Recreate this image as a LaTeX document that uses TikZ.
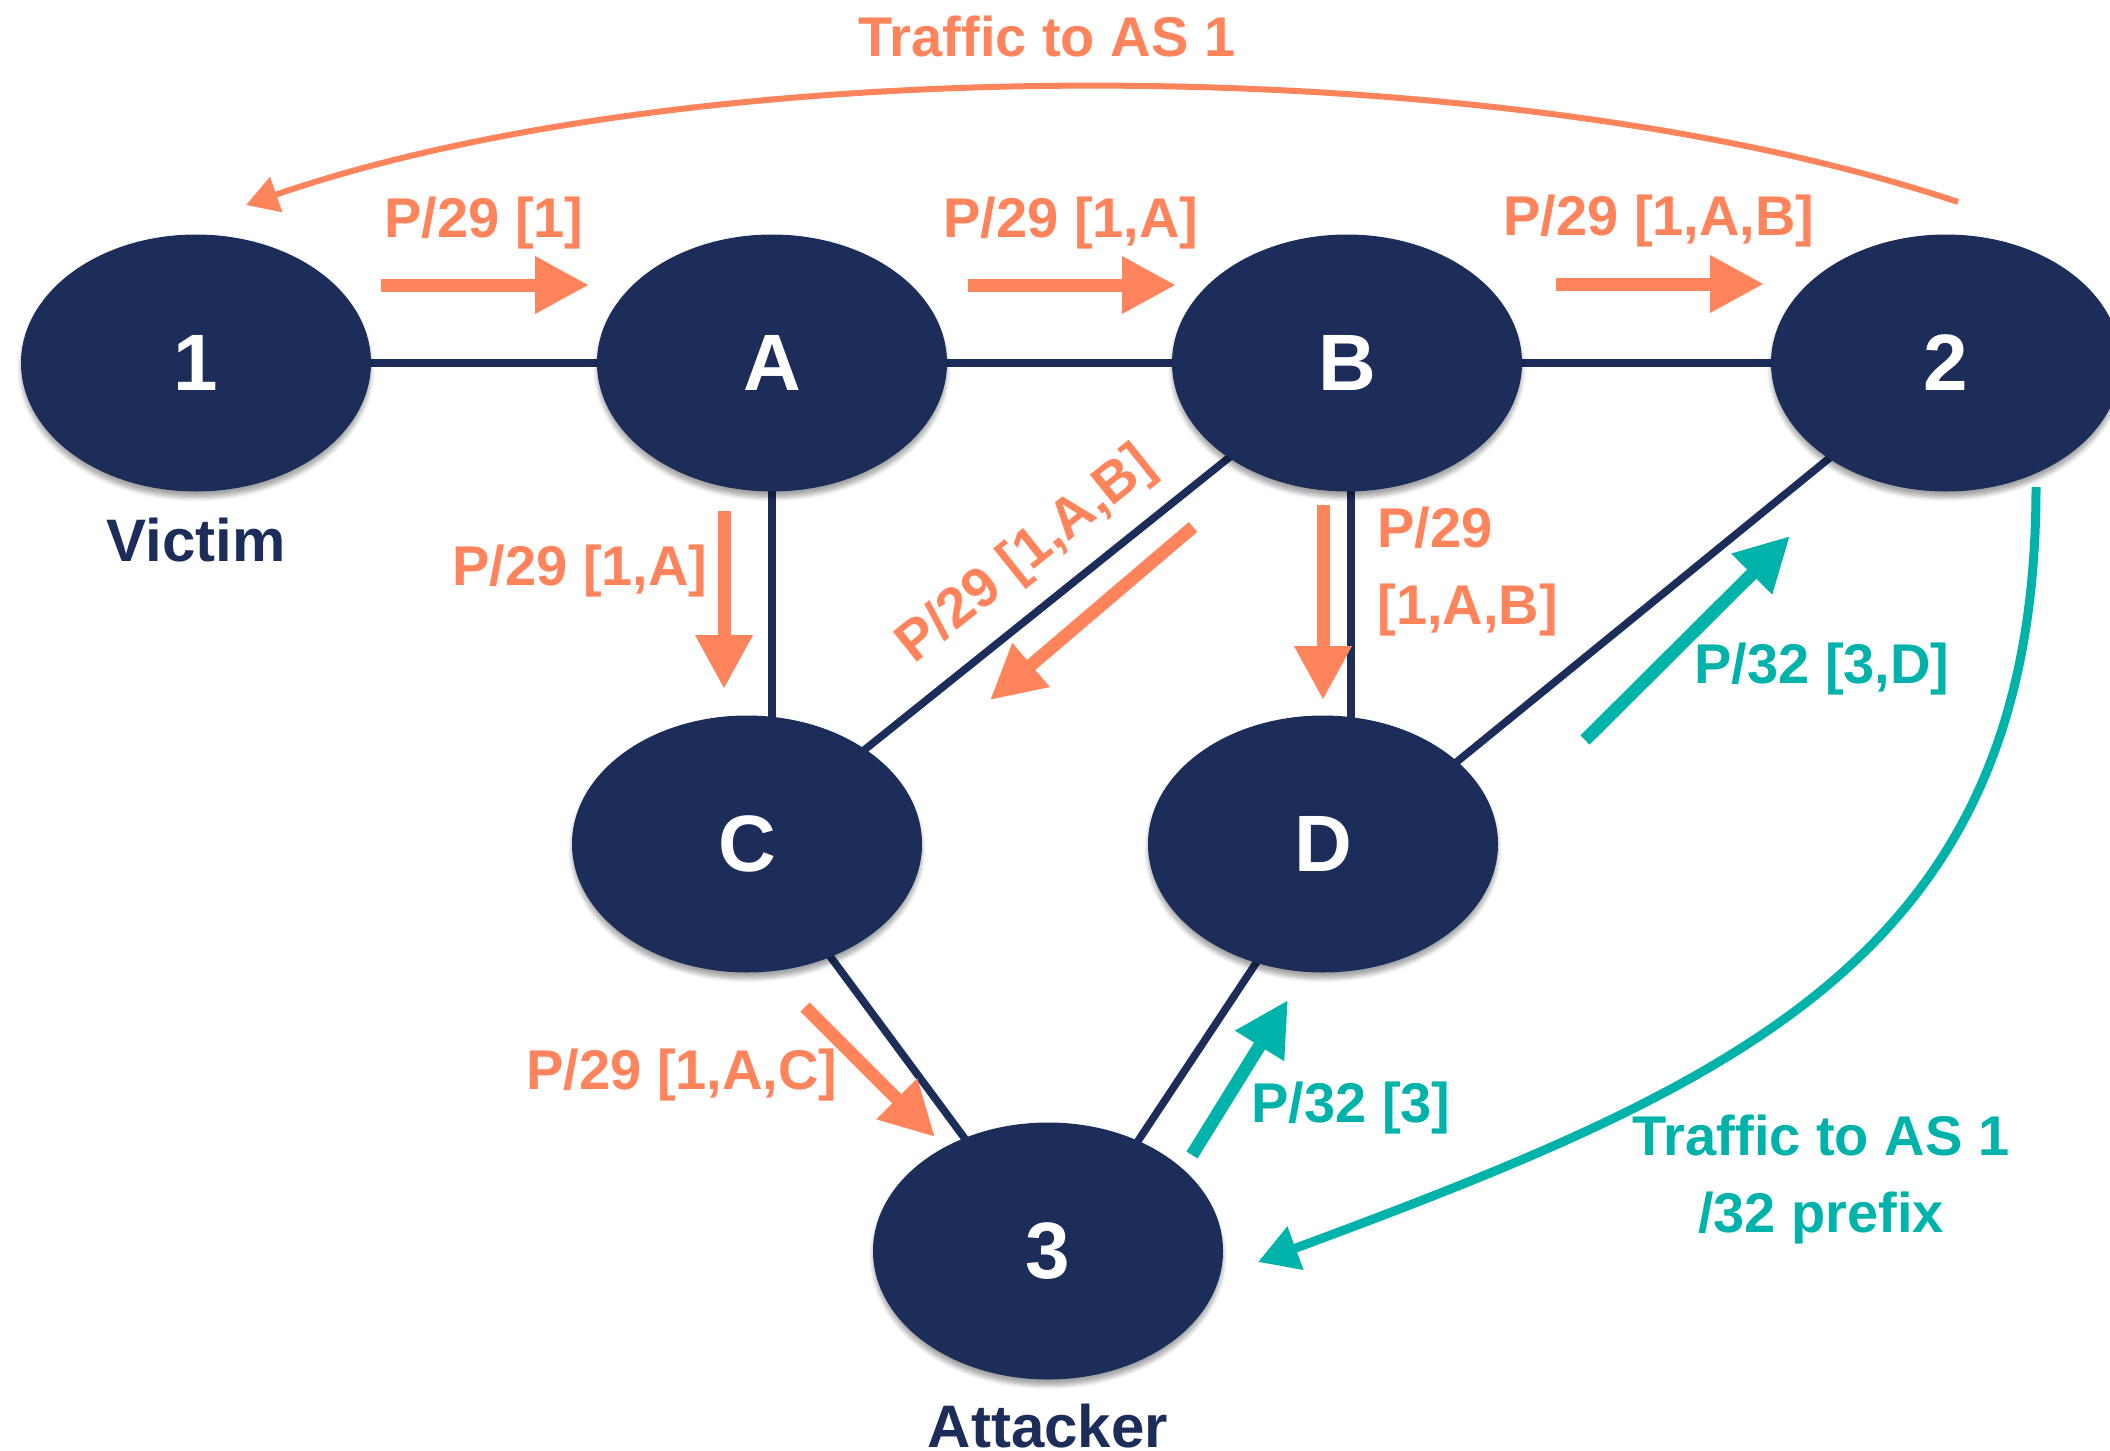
\documentclass[tikz,border=0pt]{standalone}
\usepackage{fontspec}
\setmainfont{Liberation Sans}
\usetikzlibrary{arrows.meta,shapes.geometric,shadows.blur,backgrounds,calc}
\definecolor{navy}{HTML}{1C2D5A}
\definecolor{coral}{HTML}{FF835B}
\definecolor{tealc}{HTML}{00B3AA}
\begin{document}
\begin{tikzpicture}[x=0.5pt,y=-0.5pt,
  asnode/.style={ellipse, fill=navy, minimum width=175pt, minimum height=128.5pt, inner sep=0pt,
    text=white, font=\fontsize{40}{40}\selectfont\bfseries,
    blur shadow={shadow xshift=0pt, shadow yshift=-3pt, shadow blur steps=6, shadow opacity=35}},
  link/.style={draw=navy, line width=3.8pt},
  lbl/.style={font=\fontsize{28}{38.5}\selectfont\bfseries, inner sep=0pt},
  namelbl/.style={lbl, text=navy, font=\fontsize{30}{36}\selectfont\bfseries},
  bigarrow/.style={line width=6.5pt, -{Triangle[length=27pt,width=27pt]}},
  oarrow/.style={bigarrow, draw=coral},
  tarrow/.style={bigarrow, draw=tealc},
]
\useasboundingbox (0,0) rectangle (2110,1451);
\begin{scope}
\clip (0,0) rectangle (2110,1451);
% nodes
\node[asnode] (n1) at (196,363) {1};
\node[asnode] (nA) at (772,363) {A};
\node[asnode] (nB) at (1347,363) {B};
\node[asnode] (n2) at (1946,363) {2};
\node[asnode] (nC) at (747,844) {C};
\node[asnode] (nD) at (1323,844) {D};
\node[asnode] (n3) at (1048,1251) {3};

\begin{pgfonlayer}{background}
\draw[link] (n1.center) -- (nA.center);
\draw[link] (nA.center) -- (nB.center);
\draw[link] (nB.center) -- (n2.center);
\draw[link] (nA.center) -- (nA.center |- nC.center);
\draw[link] ($(nB.center)+(4,0)$) -- ($(nB.center |- nD.center)+(4,0)$);
\draw[link] (nB.center) -- (nC.center);
\draw[link] (n2.center) -- ($(nD.center)+(33,0)$);
\draw[link] (nC.center) -- (n3.center);
\draw[link] ($(nD.center)+(12,0)$) -- ($(n3.center)+(17,0)$);
\end{pgfonlayer}

% names
\node[namelbl] (victim) at (196,540) {Victim};
\node[namelbl] (attacker) at (1048,1426) {Attacker};

% thick announcement arrows
\coordinate (a1s) at (381,285); \coordinate (a1e) at (589,285);
\coordinate (a2s) at (968,285); \coordinate (a2e) at (1176,285);
\coordinate (a3s) at (1556,284); \coordinate (a3e) at (1764,284);
\coordinate (a4s) at (724,511); \coordinate (a4e) at (724,689);
\coordinate (a5s) at (1323,505); \coordinate (a5e) at (1323,700);
\coordinate (a6s) at (1193,527); \coordinate (a6e) at (990,700);
\coordinate (a7s) at (805,1007); \coordinate (a7e) at (935,1137);
\coordinate (t1s) at (1192,1155); \coordinate (t1e) at (1288,1000);
\coordinate (t2s) at (1585,740); \coordinate (t2e) at (1790,536);
\draw[oarrow] (a1s) -- (a1e);
\draw[oarrow] (a2s) -- (a2e);
\draw[oarrow] (a3s) -- (a3e);
\draw[oarrow] (a4s) -- (a4e);
\draw[oarrow] (a5s) -- (a5e);
\draw[oarrow] (a6s) -- (a6e);
\draw[oarrow] (a7s) -- (a7e);
\draw[tarrow] (t1s) -- (t1e);
\draw[tarrow] (t2s) -- (t2e);

% labels
\node[lbl, text=coral] (l1) at (484,223) {P/29 [1]};
\node[lbl, text=coral] (l2) at (1071,223) {P/29 [1,A]};
\node[lbl, text=coral] (l3) at (1659,221) {P/29 [1,A,B]};
\node[lbl, text=coral] (l4) at (580,571) {P/29 [1,A]};
\node[lbl, text=coral, rotate=38.7] (l5) at (1027,556) {P/29 [1,A,B]};
\node[lbl, text=coral, align=left, anchor=west] (l6) at (1377,572) {P/29\\{}[1,A,B]};
\node[lbl, text=coral] (l7) at (682,1075) {P/29 [1,A,C]};
\node[lbl, text=tealc] (l8) at (1351,1108) {P/32 [3]};
\node[lbl, text=tealc] (l9) at (1822,669) {P/32 [3,D]};

% traffic curves
\coordinate (c1s) at (1958,202);
\coordinate (c1e) at (246,205);
\draw[draw=coral, line width=3pt, -{Triangle[length=16pt,width=18pt]}]
  (c1s) .. controls (1500,48) and (700,48) .. (c1e);
\node[lbl, text=coral] (tr1) at (1047,36) {Traffic to AS 1};

\coordinate (c2s) at (2036,487);
\coordinate (c2e) at (1258,1262);
\draw[draw=tealc, line width=4.5pt, -{Triangle[length=20pt,width=22pt]}]
  (c2s) .. controls (2036,950) and (1750,1080) .. (c2e);
\node[lbl, text=tealc, align=center] (tr2) at (1821,1180) {Traffic to AS 1\\/32 prefix};
\end{scope}
\end{tikzpicture}
\end{document}
